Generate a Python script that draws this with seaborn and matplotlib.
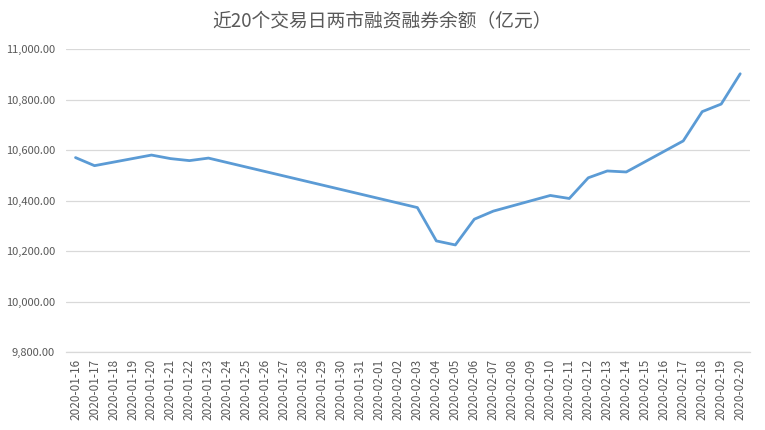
import matplotlib
matplotlib.use("Agg")
import matplotlib.pyplot as plt
import seaborn as sns
import pandas as pd
import numpy as np

title = "近20个交易日两市融资融券余额（亿元）"
trade_dates = ["2020-01-16", "2020-01-17", "2020-01-20", "2020-01-21", "2020-01-22",
               "2020-01-23", "2020-02-03", "2020-02-04", "2020-02-05", "2020-02-06",
               "2020-02-07", "2020-02-10", "2020-02-11", "2020-02-12", "2020-02-13",
               "2020-02-14", "2020-02-17", "2020-02-18", "2020-02-19", "2020-02-20"]
balance = [10570, 10538, 10580, 10566, 10558, 10568, 10372, 10240, 10224, 10326,
           10358, 10420, 10408, 10490, 10517, 10513, 10636, 10752, 10782, 10902]
axis_dates = [d.strftime("%Y-%m-%d") for d in pd.date_range("2020-01-16", "2020-02-20")]
y_ticks = [9800, 10000, 10200, 10400, 10600, 10800, 11000]

sns.set_theme(style="white")
plt.rcParams['font.family'] = ['Noto Sans CJK SC', 'DejaVu Sans']

start = pd.Timestamp(axis_dates[0])
df = pd.DataFrame({
    "day": [(pd.Timestamp(d) - start).days for d in trade_dates],
    "value": balance,
})

fig = plt.figure(figsize=(7.65, 4.30), dpi=100)
ax = fig.add_axes([0.0863, 0.1814, 0.8937, 0.7046])

sns.lineplot(data=df, x="day", y="value", ax=ax, color="#5b9bd5", linewidth=2.0)

grid_c = "#d9d9d9"
text_c = "#595959"
ax.set_ylim(y_ticks[0], y_ticks[-1])
ax.set_yticks(y_ticks)
ax.set_yticklabels([f"{v:,.2f}" for v in y_ticks], fontsize=8, color=text_c)
ax.yaxis.grid(True, color=grid_c, linewidth=0.9)
ax.set_axisbelow(True)

n = len(axis_dates)
ax.set_xlim(-0.5, n - 0.5)
ax.set_xticks(range(n))
ax.set_xticklabels(axis_dates, rotation=90, fontsize=8.5, color=text_c)
ax.set_xticks(np.arange(-0.5, n, 1.0), minor=True)
ax.tick_params(axis="x", which="major", length=0, pad=5)
ax.tick_params(axis="x", which="minor", length=4, color=grid_c, width=0.9)
ax.tick_params(axis="y", length=0, pad=8)

for s in ["top", "right", "left"]:
    ax.spines[s].set_visible(False)
ax.spines["bottom"].set_color(grid_c)
ax.spines["bottom"].set_linewidth(0.9)

ax.set_xlabel("")
ax.set_ylabel("")
fig.suptitle(title, x=0.5, y=0.975, fontsize=13.5, color=text_c, fontweight="light")

fig.savefig("out.png", dpi=100, facecolor="white")
